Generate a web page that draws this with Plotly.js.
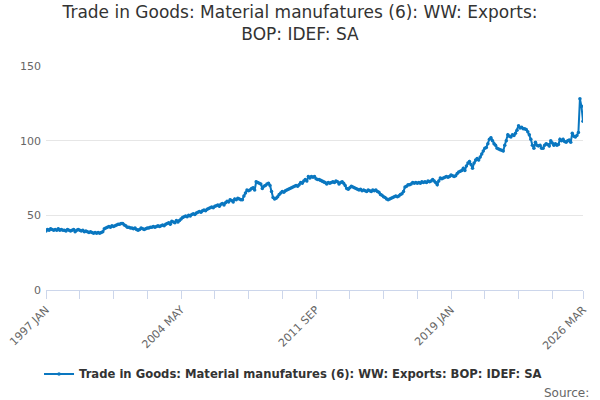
<!DOCTYPE html>
<html>
<head>
<meta charset="utf-8">
<script src="https://cdn.plot.ly/plotly-3.0.1.min.js"></script>
<style>body{margin:0;}#chart{width:600px;height:400px;}</style>
</head>
<body>
<div id="chart"></div>
<script>
const monthNames = ["JAN","FEB","MAR","APR","MAY","JUN","JUL","AUG","SEP","OCT","NOV","DEC"];
const values = [
  39.5,40.5,40,41,40.5,40,40.5,40,41,40,40.5,40,
  40,39.5,40.5,40,39.5,40,40.5,39,40,40.5,40,39.5,
  40,39,39.5,39,38.5,39,38.5,38,38.5,38,38.5,38,
  38.5,39,41,41.5,42,42.5,42,43,42.5,43,43.5,44,
  44,44.5,44.5,43.5,43,42,42,41.5,41.5,41,41.5,40.5,
  40,40.5,41.5,41,40.5,41,41.5,41.5,42,42,42.5,42,
  42.5,43,42.5,43,43.5,43,44,44.5,45,44,46,45.5,
  45,46.5,45.5,46.5,47.5,48.5,49,49.5,49,50,49.5,50.5,
  51,50.5,51.5,52,52.5,52,53,53.5,53,54,54.5,55,
  55.5,55,56,56.5,57,56,57.5,58,57,58.5,59.5,59,
  60.5,60,59,61,60.5,61.5,61,60.5,60.5,63,65,67,
  66.5,67,68,68.5,67,72.5,72,71.5,71,68,69.5,70,
  71,71.5,70,66,62,61,61.5,62.5,64,65,66,65.5,
  66.5,67,67.5,68,68.5,69,69.5,70,69.5,70.5,72,71.5,
  73,74,73,76,75,76,75.5,76,74.5,74,74,73.5,
  73,72.5,72,71,72,71.5,72,72.5,72,73,72.5,71,
  72,72.5,71.5,70,68,67.5,68.5,69.5,69,68.5,68,67.5,
  67,67.5,66.5,67,66.5,66,67,66.5,66,67,66.5,67,
  66,65.5,64,63.5,62.5,62,61,60.5,61,61.5,62,62.5,
  63,62.5,63,64,64.5,66,69,69.5,70.5,70.5,71,72,
  71.5,72,71.5,72,71.5,72.5,72,72.5,72,73,72.5,73,
  74,73,72,70.5,73,75,74.5,75,75.5,76,75.5,76,
  77,76.5,76,76.5,78,79,79.5,80,81.5,80,83,85,
  86,84,81.5,85,87,88,87,89,91,93,95,95.5,
  98,101,102,100,98,97,95,94.5,94,93.5,93,97,
  100,104,103,102.5,104,103.5,105,107,110,108.5,109,108,
  108,107.5,106,104,101,97,95,99,97,96.5,97,95,
  95,97,98,97.5,96.5,100,98.5,97,98,97,97.5,101,
  100,101,99.5,99,100,100.5,99,105,103,102.5,103.5,105.5,
  128,123,113
];
const labelMonths = ["1997 JAN","2004 MAY","2011 SEP","2019 JAN","2026 MAR"];

const dates = values.map((v, i) => (1997 + Math.floor(i / 12)) + " " + monthNames[i % 12]);
const tickvals = [], ticktext = [];
for (let i = 0; i < dates.length - 10; i += 22) {
  tickvals.push(dates[i]);
  ticktext.push(labelMonths.includes(dates[i]) ? dates[i] : "");
}
tickvals.push(dates[dates.length - 1]);
ticktext.push(dates[dates.length - 1]);

const seriesName = "Trade in Goods: Material manufatures (6): WW: Exports: BOP: IDEF: SA";
const data = [{
  x: dates,
  y: values,
  type: "scatter",
  mode: "lines+markers",
  line: { color: "#0a77c0", width: 2 },
  marker: { color: "#0a77c0", size: 3.5 },
  name: "<b>" + seriesName + "</b>"
}];

const layout = {
  width: 600, height: 400,
  margin: { l: 46, r: 17, t: 66, b: 108 },
  font: { family: "DejaVu Sans, sans-serif", color: "#333" },
  title: { text: "Trade in Goods: Material manufatures (6): WW: Exports:<br>BOP: IDEF: SA", font: { size: 17, color: "#333" }, x: 0.5, y: 0.955, yanchor: "top" },
  xaxis: {
    type: "category", range: [0, dates.length - 1],
    tickmode: "array", tickvals: tickvals, ticktext: ticktext,
    tickangle: -45, ticks: "outside", ticklen: 8, tickcolor: "#ccd6eb",
    showline: true, linecolor: "#ccd6eb", showgrid: false,
    tickfont: { size: 11, color: "#666" }
  },
  yaxis: {
    range: [0, 150], tickvals: [0, 50, 100, 150],
    gridcolor: "#e6e6e6", zeroline: false,
    tickfont: { size: 11, color: "#666" }, ticklabelstandoff: 4
  },
  showlegend: true,
  legend: { orientation: "h", x: 0.46, xanchor: "center", y: -0.31, yanchor: "top", itemwidth: 30, font: { size: 11.6, color: "#333" } },
  annotations: [{ text: "Source:", xref: "paper", yref: "paper", x: 1.015, y: -0.42, xanchor: "right", yanchor: "top", showarrow: false, font: { size: 12, color: "#666" } }],
  plot_bgcolor: "#fff", paper_bgcolor: "#fff"
};

Plotly.newPlot("chart", data, layout, { displayModeBar: false });
</script>
</body>
</html>
